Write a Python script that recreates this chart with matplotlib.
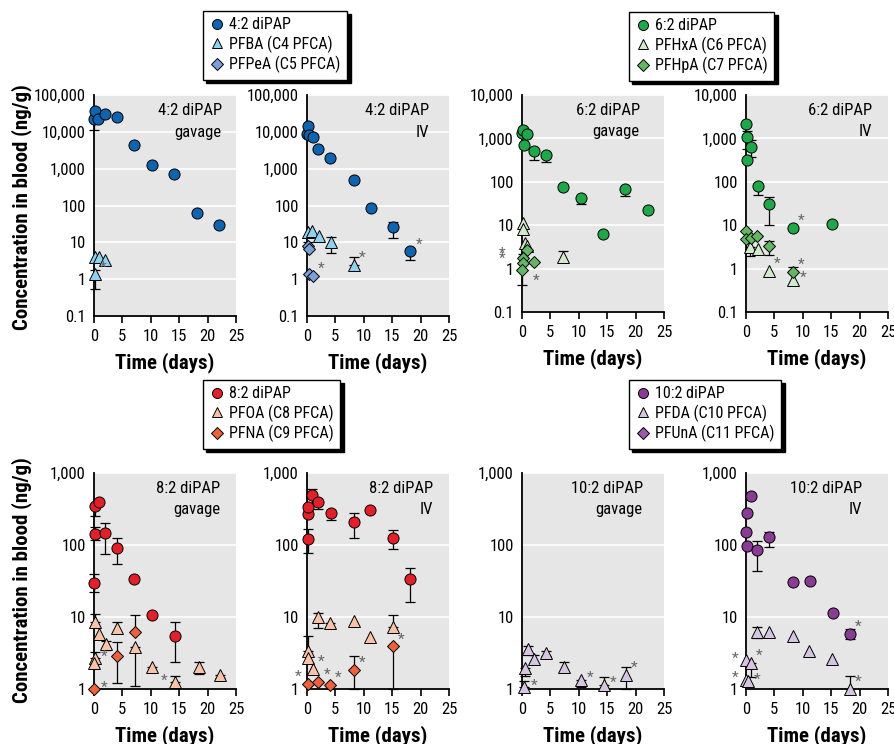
import numpy as np
import matplotlib
matplotlib.use('Agg')
import matplotlib.pyplot as plt
from matplotlib.lines import Line2D
from matplotlib.ticker import NullLocator

plt.rcParams['font.family'] = ['Roboto Condensed', 'Archivo Narrow', 'Barlow Semi Condensed', 'DejaVu Sans']

N = None

# ---------------- 4:2 diPAP gavage ----------------
g42_dipap_x = [0, 0.25, 0.75, 2, 4, 7, 10.2, 14, 18.1, 22]
g42_dipap_y = [22000, 37000, 22000, 30000, 25000, 4500, 1250, 700, 62, 30]
g42_dipap_lo = [11500, N, N, N, N, N, N, N, N, N]
g42_dipap_hi = [N] * 10
g42_dipap_star = [''] * 10
g42_c4_x = [0.25, 0.9, 2.0, 0.2]
g42_c4_y = [4.1, 4.0, 3.3, 1.35]
g42_c4_lo = [N, N, N, 0.55]
g42_c4_hi = [N, N, N, 1.8]
g42_c4_star = ['', '', '', 'ur']

# ---------------- 4:2 diPAP IV ----------------
iv42_dipap_x = [0, 0.1, 0.3, 1, 2, 4, 8.3, 11.3, 15.2, 18.2]
iv42_dipap_y = [9000, 14000, 8000, 7300, 3500, 1950, 490, 83, 26, 5.7]
iv42_dipap_lo = [N, N, N, N, N, N, N, N, 13, 3.3]
iv42_dipap_hi = [N, N, N, N, N, N, N, N, 35, N]
iv42_dipap_star = [''] * 9 + ['ur']
iv42_c4_x = [0.1, 0.9, 2.1, 4.3, 8.2]
iv42_c4_y = [19, 20, 15, 10, 2.4]
iv42_c4_lo = [N, N, N, 5, N]
iv42_c4_hi = [N, N, N, 14, 4]
iv42_c4_star = ['', '', '', '', 'ur']
iv42_c5_x = [0.1, 0.3, 0.3, 1.1]
iv42_c5_y = [8, 6.8, 1.4, 1.25]
iv42_c5_lo = [N, N, N, N]
iv42_c5_hi = [10.5, N, N, N]
iv42_c5_star = ['', '', '', 'ur']

# ---------------- 6:2 diPAP gavage ----------------
g62_dipap_x = [0, 0.2, 0.35, 0.9, 2.1, 4.2, 7.2, 10.3, 14.3, 18.2, 22.2]
g62_dipap_y = [1300, 1550, 720, 1250, 520, 410, 74, 42, 6.3, 69, 23]
g62_dipap_lo = [N, N, N, N, 310, 280, N, 30, N, 47, N]
g62_dipap_hi = [N] * 11
g62_dipap_star = [''] * 11
g62_c6_x = [0.2, 0.2, 0.5, 0.8, 7.2]
g62_c6_y = [11.5, 8.1, 3.9, 3.4, 1.9]
g62_c6_lo = [N, N, N, N, 1.5]
g62_c6_hi = [N, N, N, N, 2.5]
g62_c6_star = [''] * 5
g62_c7_x = [0.95, 0.2, 0.2, 2.1, 0.0]
g62_c7_y = [2.7, 1.75, 1.35, 1.45, 0.95]
g62_c7_lo = [N, N, N, N, 0.42]
g62_c7_hi = [N, 2.2, N, N, N]
g62_c7_star = ['', 'fl', 'fl', '', 'dr']

# ---------------- 6:2 diPAP IV ----------------
iv62_dipap_x = [0.05, 0.1, 0.95, 0.1, 2.1, 4.1, 8.2, 15.1]
iv62_dipap_y = [2200, 1050, 630, 320, 80, 30, 8.5, 10.7]
iv62_dipap_lo = [N, 560, 380, N, 50, 10, N, N]
iv62_dipap_hi = [N, 1500, 900, N, N, 45, N, N]
iv62_dipap_star = ['', '', '', '', '', '', 'ur', '']
iv62_c6_x = [0.75, 2.1, 4.1, 8.3]
iv62_c6_y = [3.2, 2.8, 0.88, 0.56]
iv62_c6_lo = [2.0, N, N, N]
iv62_c6_hi = [N, N, N, N]
iv62_c6_star = ['', '', 'ur', 'r']
iv62_c7_x = [0.05, 0.0, 0.95, 2.0, 4.1, 8.2]
iv62_c7_y = [7.3, 4.9, 5.0, 5.6, 3.3, 0.84]
iv62_c7_lo = [N, N, N, N, 2.1, N]
iv62_c7_hi = [N, N, N, N, 4.3, 1.1]
iv62_c7_star = ['', '', '', '', '', 'ur']

# ---------------- 8:2 diPAP gavage ----------------
g82_dipap_x = [0.05, 0.1, 0.25, 0.8, 2.0, 4.1, 7.1, 10.2, 14.3]
g82_dipap_y = [30, 140, 350, 400, 145, 92, 34, 10.8, 5.5]
g82_dipap_lo = [22, 118, 250, N, 75, 55, N, N, 2.4]
g82_dipap_hi = [40, 177, N, N, 200, 125, N, N, 8.5]
g82_dipap_star = [''] * 9
g82_c8_x = [0.1, 0.9, 2.1, 4.1, 7.2, 10.2, 14.3, 18.4, 22.2, 0.1, 0.0]
g82_c8_y = [8.4, 5.8, 4.2, 7.0, 3.8, 2.0, 1.25, 2.05, 1.55, 2.7, 2.3]
g82_c8_lo = [N, N, 3.5, 6.0, 1.1, 1.7, N, 1.6, 1.4, N, N]
g82_c8_hi = [11, N, 4.6, 8.5, N, N, 1.5, 2.4, N, 3.3, N]
g82_c8_star = ['', '', '', '', '', '', 'l', '', '', 'r', '']
g82_c9_x = [7.2, 4.0, 0.0]
g82_c9_y = [6.2, 2.9, 1.0]
g82_c9_lo = [N, 1.2, N]
g82_c9_hi = [10.5, 4.5, N]
g82_c9_star = ['', '', 'r']

# ---------------- 8:2 diPAP IV ----------------
iv82_dipap_x = [0.1, 0.2, 0.1, 0.9, 2.0, 4.2, 8.2, 11.1, 15.1, 18.1]
iv82_dipap_y = [120, 270, 340, 500, 400, 280, 210, 310, 125, 34]
iv82_dipap_lo = [78, N, N, 380, 320, 220, 125, N, 88, 16]
iv82_dipap_hi = [165, N, N, 590, N, N, 280, N, 160, 48]
iv82_dipap_star = [''] * 10
iv82_c8_x = [1.95, 4.05, 8.2, 11.1, 15.1, 0.1, 0.2, 1.0]
iv82_c8_y = [10, 8.3, 8.8, 5.2, 7.2, 3.4, 2.7, 1.9]
iv82_c8_lo = [7, 7.3, N, N, N, N, N, N]
iv82_c8_hi = [11.5, N, N, N, 10.5, 5.5, N, N]
iv82_c8_star = [''] * 7 + ['ur']
iv82_c9_x = [0.1, 2.0, 4.0, 8.2, 15.1]
iv82_c9_y = [1.17, 1.25, 1.15, 1.85, 3.9]
iv82_c9_lo = [N, N, N, 1.0, 1.0]
iv82_c9_hi = [N, N, N, 2.9, N]
iv82_c9_star = ['ul', 'ur', 'ur', 'ur', 'ur']

# ---------------- 10:2 diPAP gavage ----------------
g102_c10_x = [0.5, 1.1, 2.1, 4.3, 7.35, 10.35, 14.35, 18.3, 0.35]
g102_c10_y = [1.95, 3.65, 2.65, 3.2, 2.05, 1.35, 1.15, 1.55, 1.07]
g102_c10_lo = [1.5, 3.0, 2.2, 2.9, 1.75, 1.05, N, 1.0, N]
g102_c10_hi = [N, 4.0, 3.0, 3.4, 2.4, N, 1.45, 2.0, 1.3]
g102_c10_star = ['', '', '', '', '', 'r', 'r', 'ur', 'r']

# ---------------- 10:2 diPAP IV ----------------
iv102_dipap_x = [0.95, 0.1, 0.0, 0.2, 1.95, 4.1, 8.2, 11.3, 15.3, 18.3]
iv102_dipap_y = [480, 280, 150, 96, 86, 128, 31, 32, 11.5, 5.8]
iv102_dipap_lo = [N, N, N, N, 43, 95, N, N, N, 5.0]
iv102_dipap_hi = [N, N, N, N, 112, 150, N, N, N, 6.8]
iv102_dipap_star = [''] * 9 + ['ur']
iv102_c10_x = [2.0, 4.1, 8.2, 11.1, 15.1, 18.3, 0.0, 0.9, 0.05, 0.3]
iv102_c10_y = [6.2, 6.1, 5.5, 3.35, 2.6, 1.0, 2.5, 2.3, 1.35, 1.3]
iv102_c10_lo = [5.1, N, N, N, N, N, N, 1.45, N, N]
iv102_c10_hi = [7.3, N, N, N, N, 1.5, N, N, N, N]
iv102_c10_star = ['', '', '', '', '', 'ur', 'l', 'ur', 'l', 'r']

E = []

# ---------------- colours ----------------
COL = {
    '4:2': ('#0f64b0', '#8fd2ef', '#7b9fd8'),
    '6:2': ('#1fa84a', '#d2eacb', '#62b862'),
    '8:2': ('#e3202a', '#f8c3a9', '#ef6139'),
    '10:2': ('#8a3b94', '#d6c5e1', '#9d5aa9'),
}
LEG_LABELS = {
    '4:2': ['4:2 diPAP', 'PFBA (C4 PFCA)', 'PFPeA (C5 PFCA)'],
    '6:2': ['6:2 diPAP', 'PFHxA (C6 PFCA)', 'PFHpA (C7 PFCA)'],
    '8:2': ['8:2 diPAP', 'PFOA (C8 PFCA)', 'PFNA (C9 PFCA)'],
    '10:2': ['10:2 diPAP', 'PFDA (C10 PFCA)', 'PFUnA (C11 PFCA)'],
}

panels = [
    dict(fam='4:2', route='gavage', pos=(94, 95, 316), yr=(-1, 5), txr=0.90,
         s=[(g42_dipap_x, g42_dipap_y, g42_dipap_lo, g42_dipap_hi, g42_dipap_star),
            (g42_c4_x, g42_c4_y, g42_c4_lo, g42_c4_hi, g42_c4_star),
            (E, E, E, E, E)]),
    dict(fam='4:2', route='IV', pos=(307, 95, 316), yr=(-1, 5), txr=0.86,
         s=[(iv42_dipap_x, iv42_dipap_y, iv42_dipap_lo, iv42_dipap_hi, iv42_dipap_star),
            (iv42_c4_x, iv42_c4_y, iv42_c4_lo, iv42_c4_hi, iv42_c4_star),
            (iv42_c5_x, iv42_c5_y, iv42_c5_lo, iv42_c5_hi, iv42_c5_star)]),
    dict(fam='6:2', route='gavage', pos=(522, 95, 312), yr=(-1, 4), txr=0.83,
         s=[(g62_dipap_x, g62_dipap_y, g62_dipap_lo, g62_dipap_hi, g62_dipap_star),
            (g62_c6_x, g62_c6_y, g62_c6_lo, g62_c6_hi, g62_c6_star),
            (g62_c7_x, g62_c7_y, g62_c7_lo, g62_c7_hi, g62_c7_star)]),
    dict(fam='6:2', route='IV', pos=(746, 95, 312), yr=(-1, 4), txr=0.89,
         s=[(iv62_dipap_x, iv62_dipap_y, iv62_dipap_lo, iv62_dipap_hi, iv62_dipap_star),
            (iv62_c6_x, iv62_c6_y, iv62_c6_lo, iv62_c6_hi, iv62_c6_star),
            (iv62_c7_x, iv62_c7_y, iv62_c7_lo, iv62_c7_hi, iv62_c7_star)]),
    dict(fam='8:2', route='gavage', pos=(94, 473, 689), yr=(0, 3), txr=0.89,
         s=[(g82_dipap_x, g82_dipap_y, g82_dipap_lo, g82_dipap_hi, g82_dipap_star),
            (g82_c8_x, g82_c8_y, g82_c8_lo, g82_c8_hi, g82_c8_star),
            (g82_c9_x, g82_c9_y, g82_c9_lo, g82_c9_hi, g82_c9_star)]),
    dict(fam='8:2', route='IV', pos=(307, 473, 689), yr=(0, 3), txr=0.89,
         s=[(iv82_dipap_x, iv82_dipap_y, iv82_dipap_lo, iv82_dipap_hi, iv82_dipap_star),
            (iv82_c8_x, iv82_c8_y, iv82_c8_lo, iv82_c8_hi, iv82_c8_star),
            (iv82_c9_x, iv82_c9_y, iv82_c9_lo, iv82_c9_hi, iv82_c9_star)]),
    dict(fam='10:2', route='gavage', pos=(522, 473, 689), yr=(0, 3), txr=0.85,
         s=[(E, E, E, E, E),
            (g102_c10_x, g102_c10_y, g102_c10_lo, g102_c10_hi, g102_c10_star),
            (E, E, E, E, E)]),
    dict(fam='10:2', route='IV', pos=(746, 473, 689), yr=(0, 3), txr=0.82,
         s=[(iv102_dipap_x, iv102_dipap_y, iv102_dipap_lo, iv102_dipap_hi, iv102_dipap_star),
            (iv102_c10_x, iv102_c10_y, iv102_c10_lo, iv102_c10_hi, iv102_c10_star),
            (E, E, E, E, E)]),
]

MARKERS = [('o', 8.0, 3), ('^', 8.5, 4), ('D', 6.3, 5)]
STAR_OFF = {'r': (7, 1), 'l': (-8, 1), 'ur': (6, 5), 'ul': (-7, 5),
            'dr': (10, -8), 'fl': (-15, 3)}

W, H = 894, 744
fig = plt.figure(figsize=(W / 100, H / 100), dpi=100)


def fmt(v):
    return '0.1' if v < 1 else f'{int(round(v)):,}'


for p in panels:
    left, top, bot = p['pos']
    ax = fig.add_axes([left / W, 1 - bot / H, 142 / W, (bot - top) / H])
    ax.set_yscale('log')
    ax.set_ylim(10.0 ** p['yr'][0], 10.0 ** p['yr'][1])
    ax.set_xlim(0, 25)
    ax.set_facecolor('#e6e6e6')
    for sp in ['top', 'right']:
        ax.spines[sp].set_visible(False)
    ax.spines['left'].set_linewidth(1.3)
    ax.spines['bottom'].set_linewidth(1.3)
    yt = [10.0 ** k for k in range(p['yr'][0], p['yr'][1] + 1)]
    ax.set_yticks(yt)
    ax.set_yticklabels([fmt(v) for v in yt])
    ax.yaxis.set_minor_locator(NullLocator())
    ax.set_xticks(range(0, 26, 5))
    ax.grid(axis='y', color='white', lw=1.2)
    ax.set_axisbelow(True)
    ax.tick_params(axis='y', length=0, pad=6, labelsize=12)
    ax.tick_params(axis='x', length=5, width=1.2, direction='out', labelsize=12, pad=4)
    ax.set_xlabel('Time (days)', fontweight='bold', fontsize=15, labelpad=6)
    ax.text(p['txr'], 0.93, f"{p['fam']} diPAP", transform=ax.transAxes,
            ha='right', va='center', fontsize=12)
    ax.text(p['txr'], 0.83, p['route'], transform=ax.transAxes,
            ha='right', va='center', fontsize=12)
    cols = COL[p['fam']]
    for k, (xs, ys, lo, hi, st) in enumerate(p['s']):
        if len(xs) == 0:
            continue
        mk, ms, zo = MARKERS[k]
        xs = np.asarray(xs, float)
        ys = np.asarray(ys, float)
        for i in range(len(xs)):
            if lo[i] is not None or hi[i] is not None:
                dl = ys[i] - lo[i] if lo[i] is not None else 0.0
                dh = hi[i] - ys[i] if hi[i] is not None else 0.0
                ax.errorbar([xs[i]], [ys[i]], yerr=[[dl], [dh]], fmt='none',
                            ecolor='black', elinewidth=0.9, capsize=3.5,
                            capthick=0.9, zorder=2, clip_on=False)
        ax.plot(xs, ys, linestyle='none', marker=mk, ms=ms, mfc=cols[k],
                mec='black', mew=0.7, zorder=zo, clip_on=False)
        for i in range(len(xs)):
            if st[i]:
                dx, dy = STAR_OFF[st[i]]
                ax.annotate('*', (xs[i], ys[i]), xytext=(dx, dy),
                            textcoords='offset points', ha='center', va='center',
                            fontsize=11, color='#666666', zorder=6,
                            annotation_clip=False)

# y labels
fig.text(22 / W, 1 - 207 / H, 'Concentration in blood (ng/g)', rotation=90,
         ha='center', va='center', fontsize=15, fontweight='bold')
fig.text(22 / W, 1 - 580 / H, 'Concentration in blood (ng/g)', rotation=90,
         ha='center', va='center', fontsize=15, fontweight='bold')

# legends
LEG_POS = {'4:2': (203, 11), '6:2': (629, 12), '8:2': (203, 380), '10:2': (629, 380)}
for fam, (lx, ly) in LEG_POS.items():
    cols = COL[fam]
    handles = [Line2D([], [], linestyle='none', marker=MARKERS[k][0],
                      ms=MARKERS[k][1] * 0.9, mfc=cols[k], mec='black', mew=0.7)
               for k in range(3)]
    fig.legend(handles, LEG_LABELS[fam], loc='upper left',
               bbox_to_anchor=(lx / W, 1 - ly / H), frameon=True, fancybox=False,
               edgecolor='black', framealpha=1, borderaxespad=0,
               shadow={'color': 'black', 'alpha': 1, 'ox': 2.5, 'oy': -2.5},
               handletextpad=0.35, borderpad=0.4, labelspacing=0.2,
               handlelength=0.9, fontsize=11.5)

fig.savefig('out.png', dpi=100)
